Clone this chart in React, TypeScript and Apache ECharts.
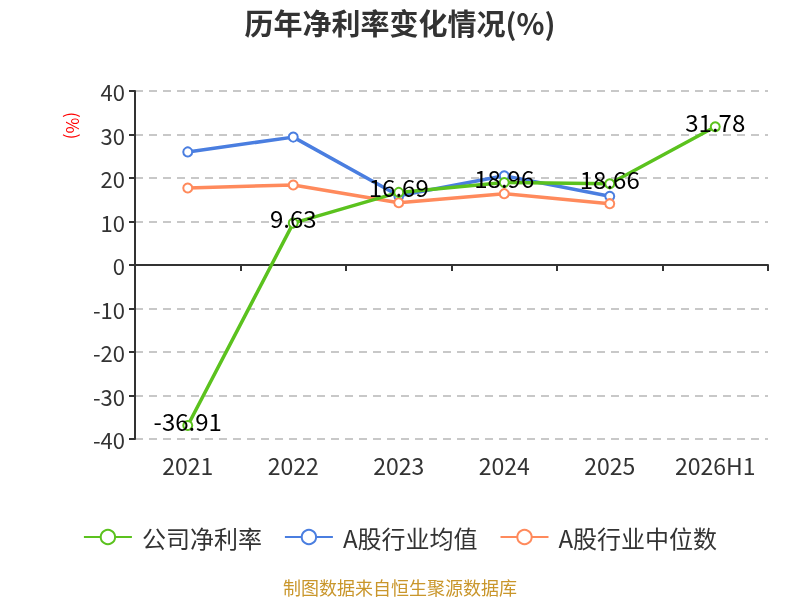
import React, { useEffect, useRef } from "react";
import * as echarts from "echarts";

const categories = ["2021", "2022", "2023", "2024", "2025", "2026H1"];
const companyMargin = [-36.91, 9.63, 16.69, 18.96, 18.66, 31.78];
const industryAvg = [26.0, 29.4, 15.9, 20.5, 15.8, null];
const industryMedian = [17.7, 18.4, 14.3, 16.4, 14.1, null];
const seriesNames = ["公司净利率", "A股行业均值", "A股行业中位数"];

const FONT = "'Noto Sans CJK SC', 'Noto Sans', sans-serif";

export default function App() {
  const ref = useRef<HTMLDivElement>(null);
  useEffect(() => {
    if (!ref.current) return;
    const chart = echarts.init(ref.current, undefined, { renderer: "svg" });
    chart.setOption({
      animation: false,
      textStyle: { fontFamily: FONT },
      title: {
        text: "历年净利率变化情况(%)",
        left: "center",
        top: 2,
        textStyle: { fontSize: 29, fontWeight: "bold", color: "#333", fontFamily: FONT },
      },
      legend: {
        top: 520,
        left: "center",
        itemWidth: 48,
        itemHeight: 18,
        itemGap: 22,
        textStyle: { fontSize: 24, color: "#333", fontFamily: FONT, padding: [0, 0, 0, 5] },
        data: seriesNames,
      },
      grid: { left: 135, right: 32, top: 91, bottom: 161, containLabel: false },
      graphic: [
        {
          type: "text",
          x: 82,
          y: 112,
          rotation: -Math.PI / 2,
          style: { text: "(%)", fill: "#ff0000", fontSize: 17, fontFamily: FONT },
        },
        {
          type: "text",
          left: "center",
          top: 578,
          style: { text: "制图数据来自恒生聚源数据库", fill: "#c9962b", fontSize: 18, fontFamily: FONT },
        },
      ],
      xAxis: [
        {
          type: "category",
          data: categories,
          boundaryGap: true,
          axisLine: { onZero: true, lineStyle: { color: "#333", width: 2 } },
          axisTick: { show: true, length: 6, lineStyle: { color: "#333", width: 2 } },
          axisLabel: { show: false },
        },
        {
          type: "category",
          data: categories,
          boundaryGap: true,
          position: "bottom",
          axisLine: { show: false, onZero: false },
          axisTick: { show: false },
          axisLabel: { show: true, fontSize: 23, color: "#333", margin: 14, fontFamily: FONT },
        },
      ],
      yAxis: {
        type: "value",
        min: -40,
        max: 40,
        interval: 10,
        axisLine: { show: true, lineStyle: { color: "#333", width: 2 } },
        axisTick: { show: true, length: 6, lineStyle: { color: "#333", width: 2 } },
        axisLabel: { fontSize: 22, color: "#333", margin: 10, fontFamily: FONT },
        splitLine: { show: true, lineStyle: { color: "#c8c8c8", type: [8, 6], width: 2 } },
      },
      series: [
        {
          name: seriesNames[0],
          type: "line",
          xAxisIndex: 0,
          data: companyMargin,
          symbol: "emptyCircle",
          symbolSize: 9,
          z: 3,
          itemStyle: { color: "#5bc21e" },
          lineStyle: { width: 3.5, color: "#5bc21e" },
          label: {
            show: true,
            position: "top",
            distance: -12,
            fontSize: 24,
            color: "#000",
            fontFamily: FONT,
          },
        },
        {
          name: seriesNames[1],
          type: "line",
          xAxisIndex: 0,
          data: industryAvg,
          symbol: "emptyCircle",
          symbolSize: 9,
          z: 2,
          itemStyle: { color: "#4a7ee0" },
          lineStyle: { width: 3.5, color: "#4a7ee0" },
        },
        {
          name: seriesNames[2],
          type: "line",
          xAxisIndex: 0,
          data: industryMedian,
          symbol: "emptyCircle",
          symbolSize: 9,
          z: 2,
          itemStyle: { color: "#ff8a5c" },
          lineStyle: { width: 3.5, color: "#ff8a5c" },
        },
      ],
    });
    return () => chart.dispose();
  }, []);
  return (
    <div
      ref={ref}
      style={{ position: "fixed", left: 0, top: 0, width: 800, height: 600 }}
    />
  );
}
